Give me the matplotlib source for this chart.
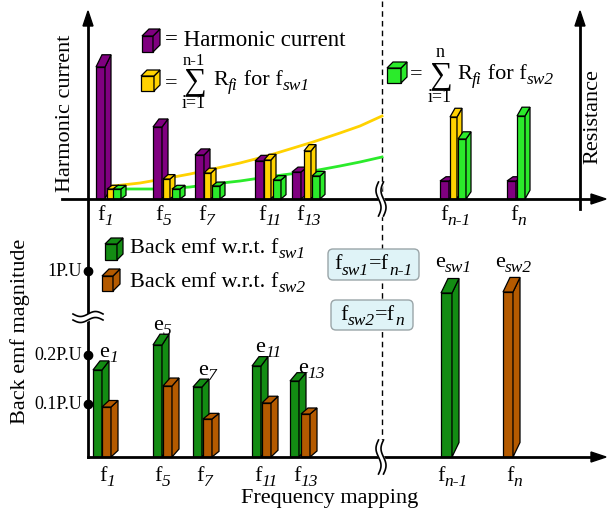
import numpy as np
import matplotlib
matplotlib.use("Agg")
import matplotlib.pyplot as plt
from matplotlib.patches import Polygon, FancyBboxPatch

plt.rcParams['font.family'] = ['Liberation Serif', 'DejaVu Serif']

# ---- data (heights in arbitrary drawing units) ----
harmonics = ['1', '5', '7', '11', '13', 'n-1', 'n']
harmonic_current = [132, 72, 44, 38, 27, 18, 18]
resist_sw1 = [10, 20, 26, 39, 48, 82]           # no bar at f_n
resist_sw2 = [10, 10, 13, 19, 23, 60, 83]
# resistance trend curves
curve_x = [113, 140, 163, 190, 213, 240, 267, 290, 313, 340, 360, 382]
curve_sw1 = [13, 16, 20, 25, 30, 36, 43, 50, 57, 66, 73, 83]
curve_sw2 = [10, 10, 10, 12, 15, 18, 22, 25, 28, 33, 37, 42]
# back emf
emf_labels = ['1', '5', '7', '11', '13', 'sw1', 'sw2']
emf_sw1 = [87, 112, 70, 91, 76, 164]            # last one is e_sw1 at f_n-1
emf_sw2 = [50, 71, 38, 54, 43, 165]             # last one is e_sw2 at f_n

# ---- layout (pixels) ----
W, H = 607, 510
base_top, base_bot, axis_x, brk_x = 200, 458, 88, 381
purple_x = [96, 153, 195, 255, 292, 440, 507]
yellow_x = [107, 163, 204, 264, 304, 450]
green_x = [113, 172, 212, 273, 312, 458, 517]
emf1_x = [93, 153, 193, 252, 290, 441]
emf2_x = [102, 163, 203, 262, 301, 503]
lab_top_x = [97, 155, 198, 258, 296, 440, 510]
lab_bot_x = [99, 154, 196, 254, 293, 437, 506]
e_x = [99, 153, 198, 255, 298, 435, 495]
e_base = [357, 330, 375, 352, 373, 267, 267]

PURPLE, YELLOW, LIME = '#800080', '#FFD200', '#2BEB2B'
DGREEN, ORANGE = '#138C13', '#B45A00'

fig = plt.figure(figsize=(W / 100, H / 100), dpi=100)
ax = fig.add_axes([0, 0, 1, 1])
ax.set_xlim(0, W)
ax.set_ylim(H, 0)
ax.axis('off')
renderer = fig.canvas.get_renderer()


def rich(x, y, parts, fs=16, ha='left', z=4):
    # parts: (text, is_subscript); subscripts are italic, smaller and lowered
    texts, cx = [], x
    for s, sub in parts:
        if sub:
            t = ax.text(cx, y + 0.33 * fs, s, fontsize=0.78 * fs, style='italic',
                        ha='left', va='baseline', zorder=z)
        else:
            t = ax.text(cx, y, s, fontsize=fs, ha='left', va='baseline', zorder=z)
        cx += t.get_window_extent(renderer).width
        texts.append(t)
    if ha == 'center':
        shift = (cx - x) / 2
        for t in texts:
            t.set_x(t.get_position()[0] - shift)


def bar3d(x, base, h, w, color, dx, z=3):
    dy = 3 + 0.07 * h
    top = base - h
    ax.bar(x, h, width=w, bottom=top, align='edge', color=color,
           edgecolor='k', linewidth=0.9, zorder=z)
    ax.add_patch(Polygon([(x + w, base), (x + w, top), (x + w + dx, top - dy),
                          (x + w + dx, base - dy)], closed=True, fc=color,
                         ec='k', lw=0.9, zorder=z))
    ax.add_patch(Polygon([(x, top), (x + w, top), (x + w + dx, top - dy),
                          (x + dx, top - dy)], closed=True, fc=color,
                         ec='k', lw=0.9, zorder=z))


def cube(x, y, w, h, color, d=6):
    ax.add_patch(Polygon([(x, y), (x + w, y), (x + w, y + h), (x, y + h)],
                         closed=True, fc=color, ec='k', lw=0.9, zorder=4))
    ax.add_patch(Polygon([(x + w, y), (x + w + d, y - d), (x + w + d, y + h - d),
                          (x + w, y + h)], closed=True, fc=color, ec='k', lw=0.9, zorder=4))
    ax.add_patch(Polygon([(x, y), (x + w, y), (x + w + d, y - d), (x + d, y - d)],
                         closed=True, fc=color, ec='k', lw=0.9, zorder=4))


def arrow_head(tip, direction):
    x, y = tip
    if direction == 'up':
        pts = [(x, y), (x - 5, y + 15), (x + 5, y + 15)]
    else:
        pts = [(x, y), (x - 15, y - 5), (x - 15, y + 5)]
    ax.add_patch(Polygon(pts, closed=True, fc='k', ec='k', zorder=6))


# ---- axes lines ----
ax.plot([axis_x, axis_x], [20, base_bot], color='k', lw=2, zorder=5)
arrow_head((axis_x, 12), 'up')
ax.plot([62, 595], [base_top, base_top], color='k', lw=2, zorder=5)
arrow_head((606, base_top), 'right')
ax.plot([580, 580], [20, 210], color='k', lw=2, zorder=5)
arrow_head((580, 12), 'up')
ax.plot([axis_x, 595], [base_bot, base_bot], color='k', lw=2, zorder=5)
arrow_head((606, base_bot), 'right')
ax.plot([382, 382], [2, 443], color='k', lw=1, dashes=(4, 3), zorder=1)


# break marks
def vbreak(xc, yc, half=17):
    t = np.linspace(-half, half, 60)
    wave = 2.5 * np.sin(t / half * np.pi)
    ax.fill_betweenx(yc + t, xc - 2.5 + wave, xc + 2.5 + wave, color='w', zorder=7)
    ax.plot(xc - 2.5 + wave, yc + t, color='k', lw=1.2, zorder=8)
    ax.plot(xc + 2.5 + wave, yc + t, color='k', lw=1.2, zorder=8)


vbreak(brk_x, base_top)
vbreak(brk_x, base_bot)
t = np.linspace(-15, 15, 60)
wave = 2.5 * np.sin(t / 15 * np.pi)
ax.fill_between(axis_x + t, 315 - wave, 321 - wave, color='w', zorder=7)
ax.plot(axis_x + t, 315 - wave, color='k', lw=1.2, zorder=8)
ax.plot(axis_x + t, 321 - wave, color='k', lw=1.2, zorder=8)

# ---- upper bars ----
for i, h in enumerate(harmonic_current):
    bar3d(purple_x[i], base_top, h, 9, PURPLE, 6)
for i, h in enumerate(resist_sw1):
    bar3d(yellow_x[i], base_top, h, 7, YELLOW, 5)
for i, h in enumerate(resist_sw2):
    bar3d(green_x[i], base_top, h, 8, LIME, 5)

ax.plot(curve_x, [base_top - v for v in curve_sw1], color=YELLOW, lw=2, zorder=2)
ax.plot(curve_x, [base_top - v for v in curve_sw2], color=LIME, lw=2, zorder=2)

# ---- lower bars ----
for i, h in enumerate(emf_sw1):
    bar3d(emf1_x[i], base_bot, h, 11 if i == 5 else 9, DGREEN, 7)
for i, h in enumerate(emf_sw2):
    bar3d(emf2_x[i], base_bot, h, 10 if i == 5 else 9, ORANGE, 7)

# ---- tick labels ----
for i, s in enumerate(harmonics):
    rich(lab_top_x[i], 220, [('f', False), (s, True)])
    rich(lab_bot_x[i], 481, [('f', False), (s, True)])
for i, s in enumerate(emf_labels):
    rich(e_x[i], e_base[i], [('e', False), (s, True)])

for y, s in [(272, '1P.U'), (356, '0.2P.U'), (405, '0.1P.U')]:
    ax.plot(axis_x, y, 'ko', ms=6, zorder=9)
    ax.text(82, y, s, fontsize=13, ha='right', va='center')

# axis titles
ax.text(65, 113, 'Harmonic current', fontsize=16, rotation=90, ha='center', va='center')
ax.text(20, 331, 'Back emf magnitude', fontsize=16, rotation=90, ha='center', va='center')
ax.text(593, 117, 'Resistance', fontsize=16, rotation=90, ha='center', va='center')
ax.text(330, 503, 'Frequency mapping', fontsize=16, ha='center', va='baseline')

# ---- legends ----
cube(142, 37, 11, 16, PURPLE, 7)
ax.text(165, 46, '= Harmonic current', fontsize=16.5, ha='left', va='baseline')

cube(141, 77, 13, 15, YELLOW, 6)
ax.text(165, 88, '=', fontsize=16, ha='left', va='baseline')
ax.text(195, 82, '\u2211', fontsize=23, ha='center', va='center')
ax.text(194, 65, 'n-1', fontsize=12, ha='center', va='baseline')
ax.text(194, 108, 'i=1', fontsize=13, ha='center', va='baseline')
rich(213, 85, [('R', False), ('fi', True), (' for f', False), ('sw1', True)])

cube(387, 69, 14, 15, LIME, 6)
ax.text(410, 79, '=', fontsize=16, ha='left', va='baseline')
ax.text(441, 76, '\u2211', fontsize=23, ha='center', va='center')
ax.text(440, 57, 'n', fontsize=13, ha='center', va='baseline')
ax.text(440, 102, 'i=1', fontsize=13, ha='center', va='baseline')
rich(457, 79, [('R', False), ('fi', True), (' for f', False), ('sw2', True)])

cube(105, 245, 12, 16, DGREEN, 6)
rich(130, 253, [('Back emf w.r.t. f', False), ('sw1', True)])
cube(102, 277, 11, 15, ORANGE, 7)
rich(130, 287, [('Back emf w.r.t. f', False), ('sw2', True)])

# ---- boxes ----
boxes = [((328, 250, 419, 281), [('f', False), ('sw1', True), ('=f', False), ('n-1', True)]),
         ((331, 301, 413, 331), [('f', False), ('sw2', True), ('=f', False), ('n', True)])]
for (x0, y0, x1, y1), parts in boxes:
    ax.add_patch(FancyBboxPatch((x0, y0), x1 - x0, y1 - y0,
                                boxstyle='round,pad=0,rounding_size=5',
                                fc='#DFF3F7', ec='#9AA5A8', lw=1, zorder=3))
    rich((x0 + x1) / 2, (y0 + y1) / 2 + 4, parts, ha='center')

fig.savefig('out.png', dpi=100)
